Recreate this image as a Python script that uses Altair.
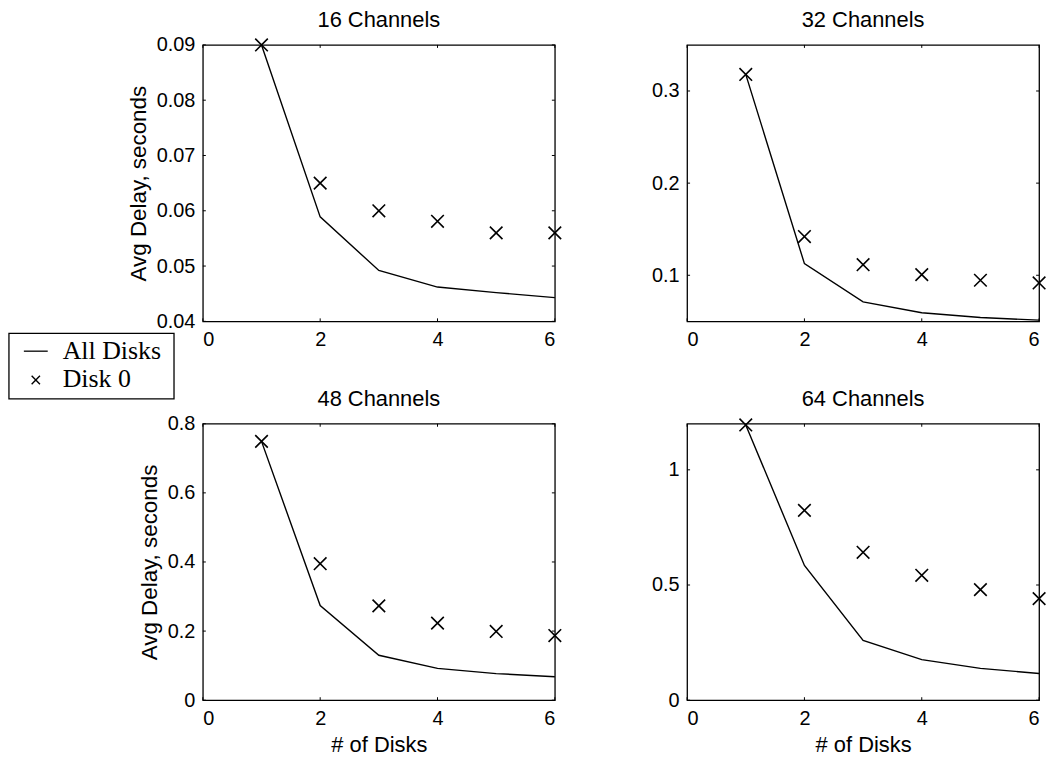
import altair as alt
import pandas as pd

disks = [1, 2, 3, 4, 5, 6]
panel_titles = ["16 Channels", "32 Channels", "48 Channels", "64 Channels"]

all_disks = [
    [0.0900, 0.0589, 0.0492, 0.0462, 0.0452, 0.0443],
    [0.318, 0.1126, 0.0712, 0.0593, 0.0542, 0.0513],
    [0.749, 0.274, 0.130, 0.092, 0.077, 0.068],
    [1.195, 0.585, 0.259, 0.176, 0.138, 0.116],
]
disk0 = [
    [0.0900, 0.0650, 0.0600, 0.0581, 0.0560, 0.0560],
    [0.318, 0.142, 0.1115, 0.1007, 0.0946, 0.0917],
    [0.749, 0.395, 0.273, 0.223, 0.199, 0.187],
    [1.195, 0.824, 0.642, 0.542, 0.480, 0.441],
]
y_domains = [[0.04, 0.09], [0.05, 0.35], [0, 0.8], [0, 1.2]]
y_ticks = [
    [0.04, 0.05, 0.06, 0.07, 0.08, 0.09],
    [0.1, 0.2, 0.3],
    [0, 0.2, 0.4, 0.6, 0.8],
    [0, 0.5, 1],
]
x_ticks = [0, 2, 4, 6]
legend_labels = ["All Disks", "Disk 0"]

W, H = 354, 278
XPATH = "M-1,-1L1,1M-1,1L1,-1"
SANS = "Liberation Sans"


def panel(i):
    df = pd.DataFrame({"disks": disks, "all": all_disks[i], "d0": disk0[i]})
    xs = alt.Scale(domain=[0, 6], nice=False, zero=False)
    ys = alt.Scale(domain=y_domains[i], nice=False, zero=False)
    xaxis = alt.Axis(values=x_ticks, format="~g", labelPadding=8, titlePadding=7,
                     labelFontSize=20, titleFontSize=22, titleFontWeight="normal",
                     labelFont=SANS, titleFont=SANS, grid=False, ticks=False, domain=False)
    yaxis = alt.Axis(values=y_ticks[i], format="~g", labelPadding=8, titlePadding=6,
                     labelFontSize=20, titleFontSize=22.5, titleFontWeight="normal",
                     labelFont=SANS, titleFont=SANS, grid=False, ticks=False, domain=False)
    xtitle = "# of Disks" if i >= 2 else None
    ytitle = "Avg Delay, seconds" if i % 2 == 0 else None

    def X(f):
        return alt.X(f, scale=xs, axis=xaxis, title=xtitle)

    def Y(f):
        return alt.Y(f, scale=ys, axis=yaxis, title=ytitle)

    line = alt.Chart(df).mark_line(color="black", strokeWidth=1.4).encode(
        x=X("disks:Q"), y=Y("all:Q"))
    pts = alt.Chart(df).mark_point(shape=XPATH, size=160, filled=False, color="black",
                                   strokeWidth=1.6, opacity=1).encode(
        x=X("disks:Q"), y=Y("d0:Q"))

    ydf = pd.DataFrame({"t": y_ticks[i]})
    xdf = pd.DataFrame({"t": x_ticks})
    lt = alt.Chart(ydf).mark_rule(color="black", strokeWidth=1).encode(
        y=Y("t:Q"), x=alt.value(0), x2=alt.value(3))
    rt = alt.Chart(ydf).mark_rule(color="black", strokeWidth=1).encode(
        y=Y("t:Q"), x=alt.value(W - 3), x2=alt.value(W))
    bt = alt.Chart(xdf).mark_rule(color="black", strokeWidth=1).encode(
        x=X("t:Q"), y=alt.value(H - 3), y2=alt.value(H))
    tt = alt.Chart(xdf).mark_rule(color="black", strokeWidth=1).encode(
        x=X("t:Q"), y=alt.value(0), y2=alt.value(3))

    one = alt.Data(values=[{"k": 1}])
    ttl = alt.Chart(one).mark_text(text=panel_titles[i], align="center", baseline="alphabetic",
                                   font=SANS, fontSize=22, color="black").encode(
        x=alt.value(W / 2), y=alt.value(-18))

    layers = [line, pts, lt, rt, bt, tt, ttl]

    if i == 0:
        box = alt.Chart(one).mark_rect(fill="white", stroke="black", strokeWidth=1.3).encode(
            x=alt.value(-195), x2=alt.value(-29), y=alt.value(290), y2=alt.value(356))
        t1 = alt.Chart(one).mark_text(text=legend_labels[0], align="left", baseline="alphabetic",
                                      font="Liberation Serif", fontSize=26, color="black").encode(
            x=alt.value(-141), y=alt.value(316))
        t2 = alt.Chart(one).mark_text(text=legend_labels[1], align="left", baseline="alphabetic",
                                      font="Liberation Serif", fontSize=26, color="black").encode(
            x=alt.value(-141), y=alt.value(344))
        ls = alt.Chart(one).mark_rule(color="black", strokeWidth=1.3).encode(
            x=alt.value(-180), x2=alt.value(-156), y=alt.value(308))
        ps = alt.Chart(one).mark_point(shape=XPATH, size=70, filled=False, color="black",
                                       strokeWidth=1.4, opacity=1).encode(
            x=alt.value(-168), y=alt.value(337))
        layers += [box, t1, t2, ls, ps]

    return alt.layer(*layers).properties(width=W, height=H)


chart = alt.concat(panel(0), panel(1), panel(2), panel(3), columns=2,
                   spacing={"row": 103, "column": 133}, bounds="flush").properties(
    padding={"left": 7, "top": 6, "right": 5, "bottom": 5},
    background="white",
).configure_view(stroke="black", strokeWidth=1.3).configure_axis(
    domain=False, ticks=False, grid=False, labelColor="black", titleColor="black"
)

chart.save("out.html", embed_options={"renderer": "svg", "actions": False})
